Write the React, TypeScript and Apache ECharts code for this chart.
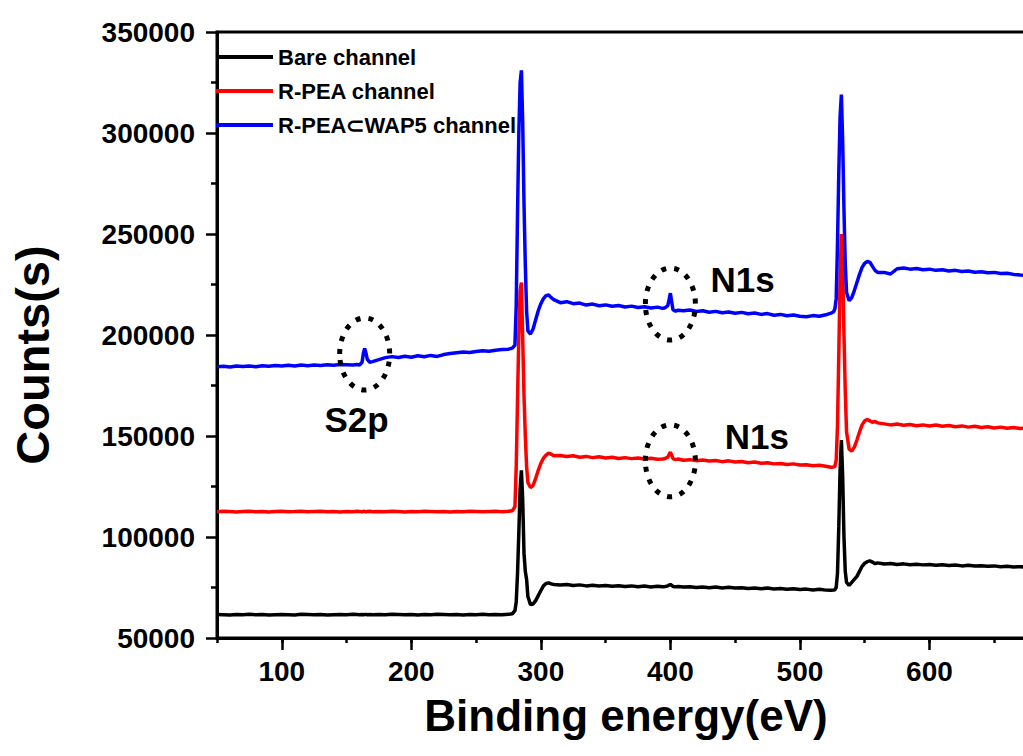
import { useEffect, useRef } from "react";
import * as echarts from "echarts";

// Binding energy (eV) sample points shared by the three survey spectra
const energies = [
  50, 55, 60, 65, 70, 75, 80, 85, 90, 95, 100, 105, 110, 115, 120, 125, 130, 135, 140, 145,
  150, 155, 158, 160, 162, 163, 164, 165, 166, 168, 170, 175,
  180, 185, 190, 195, 200, 205, 210, 215, 220, 225, 230, 235, 240, 245, 250, 255, 260, 265, 270, 275,
  278, 280, 281, 282, 283, 284, 285, 286, 287, 288, 289, 290, 292, 294, 296, 298, 300, 302, 304, 306, 308, 310,
  315, 320, 325, 330, 335, 340, 345, 350, 355, 360, 365, 370, 375, 380, 385, 390,
  394, 396, 398, 399, 400, 401, 402, 404, 406,
  410, 415, 420, 425, 430, 435, 440, 445, 450, 455, 460, 465, 470, 475, 480, 485, 490, 495, 500, 505, 510, 515, 520,
  524, 526, 527, 528, 529, 530, 531, 532, 533, 534, 535, 536, 538, 540, 542, 544, 546, 548, 550, 552, 554, 556, 558, 560,
  565, 570, 575, 580, 585, 590, 595, 600, 605, 610, 615, 620, 625, 630, 635, 640, 645, 650, 655, 660, 665, 670, 675,
];

// Counts for the bare channel
const bareChannel = [
  61600, 61500, 61400, 61600, 61500, 61700, 61500, 61600, 61400, 61500, 61600, 61500, 61400, 61700, 61600, 61500, 61600, 61400, 61500, 61600,
  61500, 61700, 61600, 61500, 61600, 61500, 61600, 61700, 61500, 61600, 61500, 61600,
  61500, 61700, 61600, 61500, 61600, 61400, 61600, 61500, 61700, 61600, 61500, 61600, 61400, 61600, 61500, 61700, 61500, 61600, 61500, 61700,
  62000, 63500, 68000, 82000, 102000, 124000, 133000, 118000, 92000, 83000, 79000, 70500, 66500, 66800, 68500, 71000, 73500, 75800, 77000, 77300, 76800, 76500,
  76200, 76500, 76000, 76300, 75800, 76100, 75700, 76000, 75600, 75900, 75500, 75800, 75400, 75700, 75300, 75600,
  75400, 75500, 75800, 76200, 76500, 76000, 75500, 75300, 75500,
  75200, 75400, 75000, 75300, 74900, 75200, 74800, 75100, 74700, 74900, 74500, 74800, 74400, 74700, 74300, 74500, 74100, 74400, 74000, 74200, 73800, 74100, 73700,
  73600, 73700, 73900, 75000, 82000, 105000, 133000, 148000, 130000, 100000, 83000, 77500, 76000, 77500, 79000, 80500, 83000, 85500, 87000, 87800, 88200, 87600, 86800, 87200,
  86600, 86900, 86400, 86700, 86300, 86500, 86200, 86400, 86000, 86300, 85900, 86100, 85700, 86000, 85600, 85800, 85500, 85700, 85300, 85500, 85200, 85300, 85100,
];

// Counts for the R-PEA channel
const rPeaChannel = [
  112500, 112700, 112600, 112400, 112600, 112700, 112500, 112600, 112400, 112600, 112700, 112500, 112600, 112800, 112500, 112600, 112700, 112500, 112600, 112400,
  112600, 112500, 112700, 112600, 112500, 112700, 112600, 112500, 112600, 112700, 112500, 112600,
  112500, 112700, 112600, 112400, 112600, 112500, 112700, 112600, 112500, 112600, 112400, 112600, 112500, 112700, 112600, 112500, 112600, 112700, 112500, 112700,
  113000, 115000, 135000, 168000, 200000, 222000, 226000, 198000, 170000, 150000, 135000, 127000, 124500, 125500, 129000, 133000, 136500, 139000, 140500, 141500, 141000, 140200,
  140300, 139800, 140200, 139500, 139900, 139300, 139700, 139100, 139500, 138900, 139300, 138800, 139100, 138600, 139000, 138500,
  138600, 138900, 139500, 140800, 142000, 140500, 138800, 138300, 138600,
  138000, 138300, 137800, 138100, 137600, 137900, 137300, 137700, 137100, 137400, 136800, 137100, 136500, 136800, 136200, 136400, 135900, 136200, 135600, 135800, 135300, 135500, 135000,
  134500, 134600, 135000, 138000, 155000, 190000, 228000, 250000, 232000, 200000, 172000, 152000, 143500, 142500, 144500, 148000, 152000, 155500, 157500, 158200, 157500, 156800, 157200, 156500,
  156000, 155500, 155900, 155300, 155700, 155100, 155500, 155000, 155400, 154800, 155200, 154600, 155000, 154400, 154800, 154200, 154600, 154000, 154400, 153800, 154200, 153700, 154000,
];

// Counts for the R-PEA⊂WAP5 channel
const wap5Channel = [
  184300, 184500, 184200, 184600, 184400, 184700, 184300, 184800, 184500, 184900, 184600, 185000, 184700, 185100, 184800, 185200, 184900, 185300, 185000, 185400,
  185300, 185200, 185400, 185200, 186500, 191000, 193400, 191000, 188000, 186500, 186800, 187800,
  188800, 189300, 188900, 189500, 189000, 189700, 189200, 189900, 189400, 190300, 190800, 191200, 191600, 191300, 191800, 192200, 192000, 192500, 192800, 193000,
  193500, 195000, 215000, 260000, 300000, 325000, 331000, 305000, 265000, 235000, 212000, 202000, 200500, 203000, 207500, 212000, 215500, 218000, 219500, 219800, 218500, 217500,
  216000, 216500, 215500, 215800, 214800, 215300, 214500, 214900, 214200, 214600, 213900, 214300, 213600, 214000, 213400, 213800,
  213200, 213500, 214500, 217500, 220700, 216500, 212500, 211800, 212300,
  212000, 212400, 211600, 212000, 211300, 211700, 211000, 211400, 210800, 211200, 210500, 210900, 210200, 210600, 209800, 210200, 209500, 209900, 209300, 209000, 209600, 209300, 210000,
  210800, 211500, 213000, 218000, 245000, 280000, 308000, 319000, 296000, 262000, 235000, 221000, 217000, 218500, 222000, 226000, 230000, 233500, 235500, 236500, 236000, 234000, 232000, 231000,
  231000, 230200, 232800, 233200, 232600, 232900, 232300, 232600, 232000, 232300, 231700, 232000, 231400, 231700, 231100, 231300, 230800, 231000, 230400, 230600, 230000, 229700, 229500,
];

const seriesNames = ["Bare channel", "R-PEA channel", "R-PEA\u2282WAP5 channel"];
const seriesColors = ["#000000", "#ff0000", "#0000ff"];
const majorEnergyTicks = [100, 200, 300, 400, 500, 600, 700];

// Dotted rings around the weak S2p / N1s peaks, and where their labels sit (eV, counts)
const peakNotes = [
  { label: "S2p", ring: [164, 190600], text: [133, 158000] },
  { label: "N1s", ring: [400, 215300], text: [431, 227400] },
  { label: "N1s", ring: [400, 137700], text: [442, 149800] },
];

const FONT = '"Liberation Sans", Arial, sans-serif';

export default function App() {
  const ref = useRef<HTMLDivElement>(null);

  useEffect(() => {
    if (!ref.current) return;
    const chart = echarts.init(ref.current, undefined, { renderer: "svg" });
    const spectra = [bareChannel, rPeaChannel, wap5Channel];

    const axisLine = { show: true, lineStyle: { color: "#000", width: 3 } };
    const tickLine = { color: "#000", width: 2.5 };
    const labelStyle = { color: "#000", fontFamily: FONT, fontWeight: "bold" as const, fontSize: 28 };

    chart.setOption({
      animation: false,
      backgroundColor: "#fff",
      grid: {
        left: 217,
        right: 41,
        top: 32,
        bottom: 118,
        show: true,
        borderColor: "#000",
        borderWidth: 3,
      },
      legend: {
        orient: "vertical",
        left: 216,
        top: 46,
        padding: 0,
        itemWidth: 57,
        itemHeight: 4,
        itemGap: 12,
        icon: "rect",
        data: seriesNames,
        textStyle: { color: "#000", fontFamily: FONT, fontWeight: "bold", fontSize: 22, lineHeight: 20 },
      },
      xAxis: [
        {
          type: "value",
          min: 50,
          max: 700,
          interval: 50,
          axisLine,
          axisTick: { show: true, length: 5, lineStyle: tickLine },
          axisLabel: {
            ...labelStyle,
            margin: 19,
            formatter: (v: number) => (v % 100 === 0 && v < 700 ? String(v) : ""),
          },
          splitLine: { show: false },
        },
        {
          type: "value",
          min: 50,
          max: 700,
          position: "bottom",
          axisLine: { show: false },
          axisTick: { show: true, length: 12, lineStyle: tickLine, customValues: majorEnergyTicks },
          axisLabel: { show: false },
          splitLine: { show: false },
        },
      ],
      yAxis: {
        type: "value",
        min: 50000,
        max: 350000,
        interval: 50000,
        axisLine,
        axisTick: { show: true, length: 11, lineStyle: tickLine },
        minorTick: { show: true, splitNumber: 2, length: 6, lineStyle: tickLine },
        axisLabel: { ...labelStyle, margin: 22, formatter: (v: number) => String(v) },
        splitLine: { show: false },
        minorSplitLine: { show: false },
      },
      series: spectra.map((values, i) => ({
        name: seriesNames[i],
        type: "line",
        xAxisIndex: 0,
        yAxisIndex: 0,
        showSymbol: false,
        symbol: "none",
        color: seriesColors[i],
        lineStyle: { color: seriesColors[i], width: 3.5 },
        data: energies.map((e, k) => [e, values[k]]),
        z: 2 + i,
      })),
    });

    const notes = peakNotes.flatMap((n) => {
      const [cx, cy] = chart.convertToPixel({ seriesIndex: 0 }, n.ring) as number[];
      const [tx, ty] = chart.convertToPixel({ seriesIndex: 0 }, n.text) as number[];
      return [
        {
          type: "ellipse",
          shape: { cx, cy, rx: 25, ry: 36 },
          style: { fill: "none", stroke: "#000", lineWidth: 5, lineDash: [5, 8] },
          z: 10,
        },
        {
          type: "text",
          x: tx,
          y: ty,
          style: {
            text: n.label,
            fill: "#000",
            font: `bold 35px ${FONT}`,
            textAlign: "left",
            textVerticalAlign: "middle",
            align: "left",
            verticalAlign: "middle",
          },
          z: 10,
        },
      ];
    });

    chart.setOption({
      graphic: [
        ...notes,
        {
          type: "text",
          x: 32,
          y: 355,
          rotation: Math.PI / 2,
          style: {
            text: "Counts(s)",
            fill: "#000",
            font: `bold 47px ${FONT}`,
            textAlign: "center",
            textVerticalAlign: "middle",
            align: "center",
            verticalAlign: "middle",
          },
        },
        {
          type: "text",
          x: 626,
          y: 715,
          style: {
            text: "Binding energy(eV)",
            fill: "#000",
            font: `bold 44px ${FONT}`,
            textAlign: "center",
            textVerticalAlign: "middle",
            align: "center",
            verticalAlign: "middle",
          },
        },
      ],
    });

    return () => chart.dispose();
  }, []);

  return (
    <div
      style={{
        position: "fixed",
        left: 0,
        top: 0,
        width: 1023,
        height: 756,
        overflow: "hidden",
        background: "#fff",
      }}
    >
      <div ref={ref} style={{ width: 1100, height: 756 }} />
    </div>
  );
}
